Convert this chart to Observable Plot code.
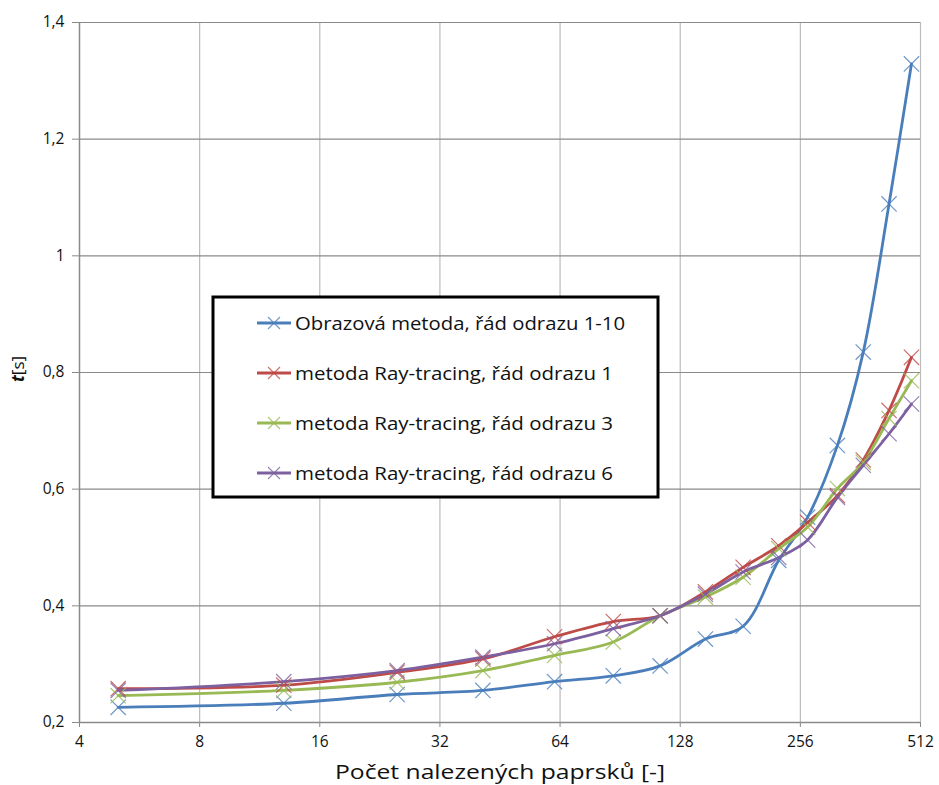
<!DOCTYPE html>
<html>
<head>
<meta charset="utf-8">
<script src="https://cdn.jsdelivr.net/npm/d3@7"></script>
<script src="https://cdn.jsdelivr.net/npm/@observablehq/plot@0.6"></script>
<style>
  html, body { margin: 0; padding: 0; background: #fff; }
  #chart { position: relative; width: 939px; height: 785px; }
</style>
</head>
<body>
<div id="chart"></div>
<script>
// ---- data ----
const seriesNames = [
  "Obrazová metoda, řád odrazu 1-10",
  "metoda Ray-tracing, řád odrazu 1",
  "metoda Ray-tracing, řád odrazu 3",
  "metoda Ray-tracing, řád odrazu 6"
];
const rays = [5, 13, 25, 41, 62, 87, 114, 148, 184, 226, 267, 317, 368, 427, 486];
const tObrazova = [0.226, 0.233, 0.248, 0.255, 0.270, 0.280, 0.297, 0.343, 0.365, 0.478, 0.552, 0.675, 0.835, 1.089, 1.329];
const tRay1 = [0.258, 0.264, 0.286, 0.309, 0.347, 0.373, 0.383, 0.424, 0.466, 0.503, 0.543, 0.589, 0.650, 0.735, 0.826];
const tRay3 = [0.246, 0.255, 0.269, 0.289, 0.315, 0.338, 0.383, 0.415, 0.449, 0.498, 0.535, 0.601, 0.646, 0.721, 0.786];
const tRay6 = [0.255, 0.270, 0.289, 0.312, 0.335, 0.361, 0.383, 0.420, 0.458, 0.483, 0.513, 0.586, 0.641, 0.695, 0.746];
const xTicks = [4, 8, 16, 32, 64, 128, 256, 512];
const yTicks = [0.2, 0.4, 0.6, 0.8, 1, 1.2, 1.4];
const xTitle = "Počet nalezených paprsků [-]";
const colors = ["#4a7ebb", "#be4b48", "#98b954", "#7d60a0"];

// ---- build table ----
const allValues = [tObrazova, tRay1, tRay3, tRay6];
const data = [];
allValues.forEach((vals, s) => {
  vals.forEach((v, i) => data.push({series: seriesNames[s], x: rays[i], t: v}));
});

const fmtY = d => String(d).replace(".", ",");

const plot = Plot.plot({
  width: 939,
  height: 785,
  marginLeft: 79,
  marginRight: 19,
  marginTop: 22,
  marginBottom: 63,
  style: {background: "#fff", overflow: "visible", fontFamily: "Open Sans", color: "#111"},
  x: {type: "log", base: 2, domain: [4, 512]},
  y: {domain: [0.2, 1.4]},
  color: {domain: seriesNames, range: colors},
  marks: [
    Plot.gridX(xTicks.slice(1), {stroke: "#bcbcbc", strokeOpacity: 1, strokeWidth: 1.2}),
    Plot.gridY(yTicks.slice(1), {stroke: "#8a8a8a", strokeOpacity: 1, strokeWidth: 1.2}),
    Plot.ruleX([4], {stroke: "#8a8a8a", strokeWidth: 1.5}),
    Plot.ruleY([0.2], {stroke: "#8a8a8a", strokeWidth: 1.5}),
    Plot.axisY(yTicks, {
      tickFormat: fmtY, tickSize: 7, tickPadding: 8, stroke: "#8a8a8a",
      fill: "#111", label: null
    }),
    Plot.axisX(xTicks, {
      tickFormat: d => String(d), tickSize: 5, tickPadding: 8, stroke: "#8a8a8a",
      fill: "#111", label: null
    }),
    Plot.line(data, {x: "x", y: "t", z: "series", stroke: "series", strokeWidth: 2.8, curve: "catmull-rom"}),
    Plot.dot(data, {x: "x", y: "t", stroke: "series", symbol: "times", r: 7, strokeWidth: 1.2, strokeOpacity: 0.8})
  ]
});

document.getElementById("chart").appendChild(plot);

const svg = d3.select(plot);
// enlarge the axis tick labels (Plot's own text)
svg.selectAll("text").style("font-size", "15.5px").style("font-family", "Open Sans");

// x title
svg.append("text")
  .attr("x", 500).attr("y", 779)
  .attr("text-anchor", "middle")
  .attr("font-family", "Open Sans")
  .attr("font-size", 20)
  .attr("textLength", 330)
  .attr("lengthAdjust", "spacingAndGlyphs")
  .attr("fill", "#111")
  .text(xTitle);

// y title: t[s]
const yt = svg.append("text")
  .attr("transform", "translate(24,369) rotate(-90)")
  .attr("text-anchor", "middle")
  .attr("font-family", "Open Sans")
  .attr("font-size", 17)
  .attr("fill", "#111");
yt.append("tspan").attr("font-style", "italic").attr("font-weight", "bold").text("t");
yt.append("tspan").text("[s]");

// legend
const legendWidths = [330, 318, 318, 318];
const lg = svg.append("g").attr("transform", "translate(213,297)");
lg.append("rect").attr("x", 0).attr("y", 0).attr("width", 445).attr("height", 200)
  .attr("fill", "#fff").attr("stroke", "#000").attr("stroke-width", 3);
seriesNames.forEach((name, i) => {
  const cy = 26 + i * 50;
  lg.append("line").attr("x1", 44).attr("x2", 78).attr("y1", cy).attr("y2", cy)
    .attr("stroke", colors[i]).attr("stroke-width", 2.8);
  lg.append("path").attr("d", `M${61-6},${cy-6}L${61+6},${cy+6}M${61-6},${cy+6}L${61+6},${cy-6}`)
    .attr("stroke", colors[i]).attr("stroke-width", 1.1).attr("stroke-opacity", 0.8);
  lg.append("text").attr("x", 82).attr("y", cy).attr("dy", "0.35em")
    .attr("text-anchor", "start")
    .attr("font-family", "Open Sans").attr("font-size", 19).attr("fill", "#111")
    .attr("textLength", legendWidths[i]).attr("lengthAdjust", "spacingAndGlyphs")
    .text(name);
});
</script>
</body>
</html>
